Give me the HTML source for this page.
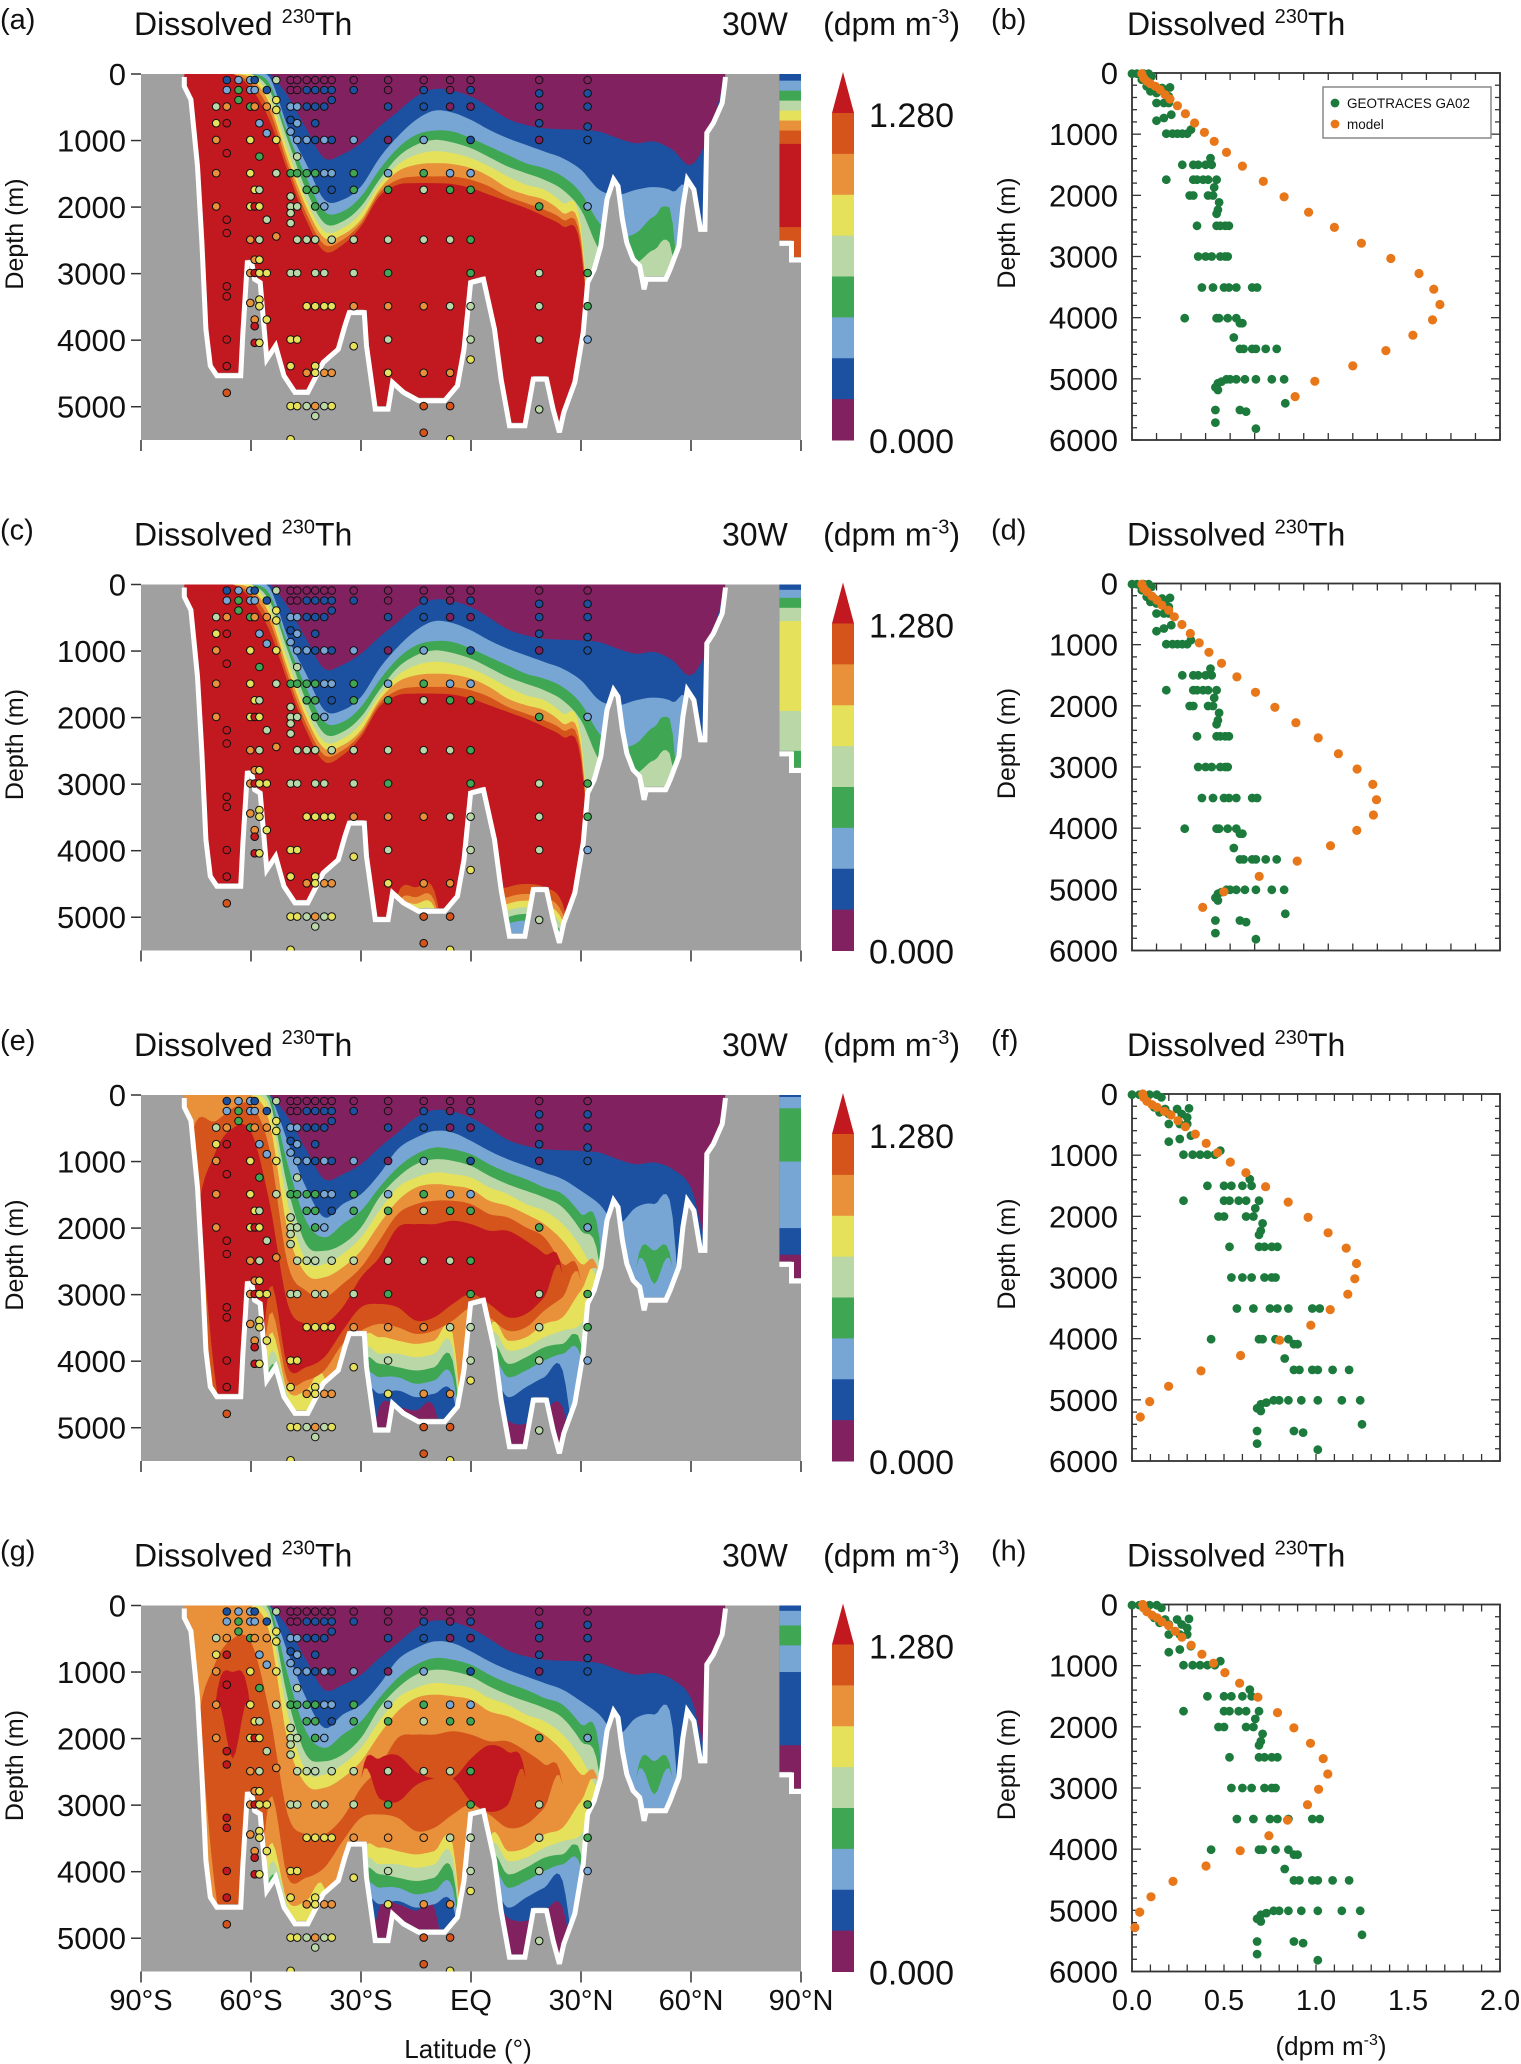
<!DOCTYPE html>
<html><head><meta charset="utf-8">
<style>
html,body{margin:0;padding:0;background:#fff;}
svg{display:block;font-family:"Liberation Sans",Arial,sans-serif;}
</style></head>
<body>
<svg id="fig" xmlns="http://www.w3.org/2000/svg" width="1521" height="2064" viewBox="0 0 1521 2064"></svg>
<script>
// ---------- data ----------
const LATS=[-80,-75,-70,-65,-60,-55,-50,-45,-40,-35,-30,-25,-20,-15,-10,-5,0,5,10,15,20,25,30,35,40,45,50,55,60,65,70];
const BATHY_LAT=[-90,-78.2,-78.2,-76.4,-74.6,-73.4,-72.3,-71.1,-69.3,-62.8,-62.2,-61,-59.8,-59,-57.5,-55.7,-53.3,-51,-48,-44.5,-40.3,-36.2,-34.4,-33.2,-29.1,-28.5,-26.1,-22.6,-21.4,-18.4,-14.3,-7.2,-3.7,-1.9,-0.1,3.4,4.6,6.4,8.2,10.5,14.7,17,20.6,22.4,24.1,25.3,28.3,30.6,31.8,33.6,35.4,37.1,38.9,40.1,41.3,42.5,44.2,46,47.2,47.8,53.1,54.3,56.7,57.8,59,60.8,62.6,63.8,64.3,66.1,68.5,69.1,69.4,84.1,84.1,87.4,87.4,90];
const BATHY_DEP=[0,0,140,340,1340,2490,3790,4340,4490,4490,3840,2790,2790,3040,3090,4240,4040,4490,4740,4740,4290,4090,3740,3540,3540,4040,4990,4990,4590,4740,4865,4865,4640,4090,3090,3040,3340,3790,4540,5240,5240,4540,4540,4990,5340,5040,4590,3840,3090,2890,2540,1840,1540,1640,2140,2490,2740,2840,3190,3040,3040,2890,2540,1940,1540,1690,2290,2290,840,690,390,140,0,0,2500,2500,2750,2750];

// panel (a) contour tops, levels 1..8
const A_TOP=[
[0,0,0,0,0,0,330,815,1265,1205,1040,790,565,340,225,250,340,500,675,765,815,830,840,865,965,1040,1015,1140,1365,900,0],
[0,0,0,0,0,40,790,1340,1890,1890,1690,1265,940,690,550,580,690,840,965,1065,1165,1265,1440,1740,1815,1740,1700,1765,2040,6000,6000],
[0,0,0,0,0,140,890,1540,2065,2065,1840,1440,1115,915,850,865,965,1090,1215,1340,1415,1540,1790,2240,2440,2390,2140,2240,6000,6000,6000],
[0,0,0,0,0,240,990,1740,2240,2215,1990,1590,1250,1065,990,1030,1115,1250,1390,1490,1590,1740,2040,2640,2800,2840,2640,2740,6000,6000,6000],
[0,0,0,0,0,340,1140,1890,2365,2315,2090,1665,1365,1215,1160,1190,1265,1390,1540,1665,1740,1940,2290,6000,6000,6000,6000,6000,6000,6000,6000],
[0,0,0,0,65,440,1265,1990,2465,2415,2190,1740,1465,1365,1340,1355,1415,1540,1715,1815,1890,2090,2440,6000,6000,6000,6000,6000,6000,6000,6000],
[0,0,0,0,140,540,1365,2090,2565,2490,2240,1790,1590,1540,1540,1540,1590,1690,1840,1940,2040,2190,2540,6000,6000,6000,6000,6000,6000,6000,6000],
[0,0,0,0,215,690,1465,2190,2665,2565,2290,1840,1665,1640,1640,1655,1715,1815,1915,2015,2140,2290,2640,6000,6000,6000,6000,6000,6000,6000,6000]];
const A_BOT=[null,null,null,null,null,null,null,null];
const C_BOT=[null,null,
[6000,6000,6000,6000,6000,6000,6000,6000,6000,6000,6000,6000,5200,5100,5150,6000,6000,5250,5100,5050,5100,5350,6000,6000,6000,6000,6000,6000,6000,6000,6000],
[6000,6000,6000,6000,6000,6000,6000,6000,6000,6000,6000,6000,5100,5000,5050,6000,6000,5150,5000,4950,5000,5250,6000,6000,6000,6000,6000,6000,6000,6000,6000],
[6000,6000,6000,6000,6000,6000,6000,6000,6000,6000,6000,6000,5000,4900,4950,6000,6000,5050,4900,4850,4900,5150,6000,6000,6000,6000,6000,6000,6000,6000,6000],
[6000,6000,6000,6000,6000,6000,6000,6000,6000,6000,6000,6000,4900,4800,4850,6000,6000,4950,4800,4750,4800,5050,6000,6000,6000,6000,6000,6000,6000,6000,6000],
[6000,6000,6000,6000,6000,6000,6000,6000,6000,6000,6000,6000,4800,4700,4750,6000,6000,4850,4700,4650,4700,4950,6000,6000,6000,6000,6000,6000,6000,6000,6000],
[6000,6000,6000,6000,6000,6000,6000,6000,6000,6000,6000,6000,4650,4550,4600,6000,6000,4700,4550,4500,4550,4800,6000,6000,6000,6000,6000,6000,6000,6000,6000]];

const E_TOP=[
[0,0,0,0,0,0,330,815,1265,1190,1040,790,565,340,225,250,340,500,675,765,815,830,840,865,965,1040,1015,1115,1390,2200,700],
[0,0,0,0,0,0,700,1390,1840,1640,1490,1190,815,640,540,565,690,840,965,1065,1165,1265,1440,1640,1940,1690,1640,1840,6000,6000,6000],
[0,0,0,0,0,0,1040,1890,2140,1940,1740,1390,1090,890,790,815,890,1040,1165,1265,1390,1490,1790,2140,6000,2600,2340,2600,6000,6000,6000],
[0,0,0,0,0,80,1390,2240,2340,2240,1990,1540,1240,1040,965,990,1065,1215,1340,1440,1540,1690,2040,2540,6000,6000,6000,6000,6000,6000,6000],
[0,0,0,0,0,200,1640,2490,2540,2390,2140,1740,1390,1240,1165,1190,1240,1390,1490,1640,1740,1940,2290,2790,2900,6000,6000,6000,6000,6000,6000],
[0,0,0,0,0,400,2040,2690,2740,2590,2340,1940,1590,1390,1340,1365,1415,1590,1665,1790,1940,2190,2540,2750,6000,6000,6000,6000,6000,6000,6000],
[1500,400,400,200,150,800,2540,2940,3040,2840,2590,2190,1790,1640,1590,1590,1640,1790,1840,1990,2140,2540,2800,6000,6000,6000,6000,6000,6000,6000,6000],
[6000,2000,900,500,550,1600,3140,3440,3440,3190,2740,2440,1990,1940,1940,1890,1940,2040,2040,2190,2390,2700,6000,6000,6000,6000,6000,6000,6000,6000,6000]];
const E_BOT=[
[6000,6000,6000,6000,6000,6000,6000,6000,6000,6000,6000,4690,4690,4740,4690,6000,6000,4540,4890,4940,4740,4690,6000,6000,6000,6000,6000,6000,6000,6000,6000],
[6000,6000,6000,6000,6000,6000,6000,6000,6000,6000,4440,4490,4440,4540,4490,4490,6000,4290,4540,4390,4240,4140,6000,6000,6000,6000,6000,6000,6000,6000,6000],
[6000,6000,6000,6000,6000,6000,6000,6000,6000,6000,4290,4240,4240,4340,4290,4240,6000,4040,4240,4140,3990,3890,3940,6000,6000,2600,2840,2600,6000,6000,6000],
[6000,6000,6000,6000,6000,4100,4650,6000,6000,6000,4090,4040,4090,4140,4090,3990,6000,3840,4040,3940,3790,3740,3740,6000,6000,6000,6000,6000,6000,6000,6000],
[6000,6000,6000,6000,6000,3900,4550,6000,4340,6000,3940,3890,3890,3940,3890,3790,6000,3690,3840,3790,3640,3540,3440,2940,2900,6000,6000,6000,6000,6000,6000],
[6000,6000,4500,6000,6000,3600,4450,4440,4240,6000,3790,3640,3690,3740,3690,3590,6000,3540,3690,3640,3440,3340,2940,2750,6000,6000,6000,6000,6000,6000,6000],
[6000,6000,4400,6000,6000,3300,4300,4290,4140,3740,3540,3440,3490,3590,3540,3390,3200,3340,3540,3490,3240,3040,2800,6000,6000,6000,6000,6000,6000,6000,6000],
[6000,2000,4150,6000,6000,2900,4090,4090,3940,3540,3190,3140,3190,3390,3340,3140,2990,3140,3340,3290,3040,2700,6000,6000,6000,6000,6000,6000,6000,6000,6000]];

const G_TOP=[E_TOP[0],E_TOP[1],E_TOP[2],E_TOP[3],E_TOP[4],E_TOP[5],E_TOP[7],
[6000,6000,1600,1000,1600,6000,6000,6000,6000,6000,2600,2300,2250,2500,2600,2600,2300,2100,2200,2600,6000,6000,6000,6000,6000,6000,6000,6000,6000,6000,6000]];
const G_BOT=[
[6000,6000,6000,6000,6000,6000,6000,6000,6000,6000,6000,4540,4490,4590,4540,6000,6000,4390,4690,4740,4590,4540,6000,6000,6000,6000,6000,6000,6000,6000,6000],
E_BOT[1],E_BOT[2],E_BOT[3],E_BOT[4],E_BOT[5],E_BOT[7],
[6000,6000,1600,2300,1600,6000,6000,6000,6000,6000,2600,2900,2950,2700,2600,2600,2950,3100,3000,2600,6000,6000,6000,6000,6000,6000,6000,6000,6000,6000,6000]];

// Arctic strip (84-90N) band tops / bottoms, levels 1..8
const ARC_A_TOP=[0,100,250,400,550,700,850,1050], ARC_A_BOT=[6000,6000,6000,6000,6000,6000,6000,2300];
const ARC_C_TOP=[0,80,200,350,550,6000,6000,6000], ARC_C_BOT=[6000,6000,6000,2500,1900,6000,6000,6000];
const ARC_E_TOP=[0,30,200,6000,6000,6000,6000,6000], ARC_E_BOT=[2400,2000,1000,6000,6000,6000,6000,6000];
const ARC_G_TOP=[0,80,300,6000,6000,6000,6000,6000], ARC_G_BOT=[2100,1000,600,6000,6000,6000,6000,6000];

// GEOTRACES stations on section: latitude and "depth:level" samples
const STATION_LATS=[-69.5,-66.6,-63.4,-60.2,-59,-57.7,-55.7,-53.1,-49.2,-47.4,-44.8,-42.5,-40,-38,-32,-22.6,-12.9,-5.7,-0.1,18.6,31.8];
const STATION_SAMPLES=[
"490:4 740:5 990:6 1490:6 1990:6",
"90:1 240:2 490:6 740:8 1190:8 2190:8 2390:8 3190:8 3340:8 3990:8 4390:8 4790:7",
"90:2 240:3 390:3",
"90:2 240:2 490:3 990:5 1490:5 1990:5 2490:6 2990:6 3440:6",
"90:1 240:2 490:6 1740:5 1990:8 2790:6 2990:8 3690:6 3790:8 4040:8",
"740:2 1240:3 1740:4 1990:5 2490:4 2790:5 2990:5 3390:5 3490:5 4040:5",
"240:1 490:6 890:2 2190:4 2990:5 3690:5",
"90:4 390:5 540:5 990:5 1490:4 2440:6",
"90:0 240:0 490:2 690:1 865:2 1490:3 1840:4 1990:4 2090:4 2240:4 2990:4 3990:5 4390:5 4990:5 5490:5",
"90:0 240:0 490:2 740:2 990:2 1240:4 1490:3 1990:4 2490:4 2990:4 3990:5 4990:5",
"90:0 240:1 490:1 990:2 1490:3 1740:3 2490:4 3490:5 4490:6 4990:4",
"90:0 240:1 490:1 740:1 990:1 1490:3 1740:3 1990:3 2490:4 2990:4 3490:5 4390:5 4490:5 4990:6 5140:4",
"90:0 240:1 490:1 990:2 1490:2 1990:2 2990:4 3490:5 4490:6 4990:4",
"90:0 240:1 390:1 990:1 1490:2 1740:1 2490:4 3490:5 4490:6 4990:5",
"90:0 240:1 990:2 1490:3 1740:3 2490:4 2990:4 3490:6 4090:5",
"90:0 240:0 490:1 990:0 1490:2 1740:3 2490:4 2990:3 3490:6 3990:4 4490:5",
"90:0 240:1 490:1 990:2 1490:3 1740:4 2490:4 3490:6 4490:6 4990:7 5390:7",
"90:0 240:0 490:0 1490:2 1740:3 2490:4 3490:4 4490:6 4990:7 5490:5",
"90:0 240:1 490:0 990:1 1490:2 1740:3 2490:3 2990:3 3490:4 3990:4 4290:5",
"90:0 290:1 490:1 740:1 990:0 1990:3 2990:4 3490:4 3990:4 5040:4",
"90:0 290:1 490:1 790:1 990:1 1990:2 2990:3 3490:3 3990:2"];

// profile observations (dpm m-3, m)
const OBS_VAL=[0,.04,.095,.135,.16,.08,.12,.18,.245,.31,.15,.2,.27,.3,.2,.26,.3,.2,.26,.32,.28,.33,.37,.41,.45,.48,.41,.5,.54,.6,.64,.65,.28,.5,.53,.58,.62,.69,.67,.47,.5,.62,.66,.71,.7,.69,.53,.69,.72,.76,.79,.54,.6,.65,.72,.76,.78,.57,.66,.75,.79,.85,.98,1.02,.43,.69,.71,.78,.85,.88,.9,.83,.88,.91,.98,1.01,1.09,1.18,.68,.7,.73,.77,.8,.85,.92,1.01,1.14,1.24,.7,1.25,.68,.88,.93,.68,1.01];
const OBS_DEP=[11,11,11,11,55,109,218,245,245,235,300,327,327,382,491,491,491,780,736,682,993,993,993,993,993,927,1500,1500,1500,1500,1391,1500,1745,1745,1745,1745,1745,1745,1871,2002,2002,2002,2002,2116,2236,2302,2498,2498,2498,2498,2498,3000,3000,3000,3000,3000,3000,3507,3507,3507,3507,3507,3507,3507,4009,4009,4009,4009,4009,4091,4091,4325,4511,4511,4511,4511,4511,4511,5138,5073,5045,5007,5007,5007,5007,5007,5007,5007,5182,5400,5509,5509,5536,5716,5815];
// model profiles
const MODEL_B_DEP=[11,82,136,175,218,273,355,425,535,665,818,971,1118,1298,1522,1773,2024,2275,2525,2782,3033,3278,3535,3785,4036,4287,4538,4789,5040,5291];
const MODEL_B_VAL=[.08,.095,.12,.15,.19,.23,.27,.31,.37,.435,.51,.59,.67,.77,.9,1.07,1.24,1.44,1.65,1.87,2.11,2.34,2.46,2.51,2.45,2.29,2.07,1.8,1.49,1.33];
const MODEL_D_DEP=[11,82,136,207,273,355,436,545,671,818,971,1124,1304,1527,1778,2024,2275,2525,2782,3033,3284,3535,3785,4036,4287,4538,4789,5040,5296];
const MODEL_D_VAL=[.081,.095,.122,.163,.204,.244,.299,.345,.407,.475,.548,.627,.73,.855,1.007,1.165,1.336,1.518,1.683,1.835,1.963,1.993,1.968,1.833,1.618,1.347,1.037,.749,.576];
const MODEL_F_DEP=[0,55,120,175,218,284,344,436,535,655,807,960,1113,1287,1516,1767,2018,2269,2520,2771,3022,3273,3524,3780,4025,4276,4527,4778,5029,5280];
const MODEL_F_VAL=[.058,.063,.081,.109,.136,.176,.212,.25,.29,.344,.403,.465,.534,.619,.726,.849,.957,1.066,1.164,1.22,1.211,1.173,1.077,.972,.802,.59,.375,.199,.096,.045];
const MODEL_H_DEP=[0,55,120,175,218,284,344,436,535,665,813,960,1113,1287,1516,1767,2018,2269,2520,2771,3022,3273,3524,3780,4025,4276,4527,4778,5029,5280];
const MODEL_H_VAL=[.058,.063,.081,.109,.136,.163,.199,.235,.271,.322,.38,.443,.505,.585,.684,.791,.88,.97,1.039,1.064,1.014,.954,.845,.744,.588,.402,.223,.103,.042,.016];

const DEPTH_TICKS=[0,1000,2000,3000,4000,5000];
const PROF_TICKS=[0,1000,2000,3000,4000,5000,6000];
const LAT_TICKS=[-90,-60,-30,0,30,60,90];
const LAT_LABELS=["90°S","60°S","30°S","EQ","30°N","60°N","90°N"];
const VAL_LABELS=["0.0","0.5","1.0","1.5","2.0"];
const COLORS=['#82215f','#1b51a0','#77a6d5','#3fa653','#b9d7a7','#e6e15a','#e8903a','#d4541c','#c1191f'];

// ---------- drawing ----------
const NS='http://www.w3.org/2000/svg';
const svg=document.getElementById('fig');
function mk(tag,attrs,parent){const e=document.createElementNS(NS,tag);for(const k in attrs)e.setAttribute(k,attrs[k]);(parent||svg).appendChild(e);return e;}
const ROWH=510.5;

function sampleCurve(arr){
  const out=[];const n=arr.length;
  for(let i=0;i<n-1;i++){
    const p0=arr[Math.max(i-1,0)],p1=arr[i],p2=arr[i+1],p3=arr[Math.min(i+2,n-1)];
    for(let s=0;s<6;s++){const t=s/6;
      let v=0.5*((2*p1)+(-p0+p2)*t+(2*p0-5*p1+4*p2-p3)*t*t+(-p0+3*p1-3*p2+p3)*t*t*t);
      const lo=Math.min(p1,p2),hi=Math.max(p1,p2);v=Math.max(lo-150,Math.min(hi+150,v));
      out.push([LATS[i]+5*t,Math.max(0,Math.min(5800,v))]);}
  }
  out.push([LATS[n-1],Math.max(0,Math.min(5800,arr[n-1]))]);return out;
}

function drawSection(r,tops,bots,arcTop,arcBot,letter){
  const t0=74+r*ROWH;
  const X=lat=>141+(lat+90)*660/180;
  const Y=d=>t0+d*366/5500;
  const g=mk('g',{});
  
  
  const cid='clip'+r;
  const cp=mk('clipPath',{id:cid},g);
  mk('rect',{x:141,y:t0,width:660,height:366},cp);
  const body=mk('g',{'clip-path':'url(#'+cid+')'},g);
  const bg=mk('rect',{x:141,y:t0,width:660,height:366,fill:COLORS[0]},body);
  
  
  for(let i=0;i<8;i++){
    const tc=sampleCurve(tops[i]);
    const bc=sampleCurve(bots[i]||tops[i].map(()=>6000));
    let p='';
    tc.forEach((q,k)=>{p+=(k?'L':'M')+X(q[0]).toFixed(1)+','+Y(q[1]).toFixed(1);});
    for(let k=bc.length-1;k>=0;k--){const d=Math.max(bc[k][1],tc[k][1]);p+='L'+X(bc[k][0]).toFixed(1)+','+Y(d).toFixed(1);}
    const band=mk('path',{d:p+'Z',fill:COLORS[i+1]},body);
    
    
    if(arcTop[i]<arcBot[i]){
      const ar=mk('rect',{x:X(84.1),y:Y(arcTop[i]),width:X(90)-X(84.1),height:Math.max(0,Y(Math.min(arcBot[i],5800))-Y(arcTop[i])),fill:COLORS[i+1]},body);
      
      
    }
  }
  // bathymetry
  let gp='M'+X(-90)+','+(t0-2);
  for(let k=0;k<BATHY_LAT.length;k++){const yy=BATHY_DEP[k]===0?t0-2:Y(BATHY_DEP[k]);gp+='L'+X(BATHY_LAT[k]).toFixed(1)+','+yy.toFixed(1);}
  gp+='L'+(X(90)+2)+','+Y(2750)+'L'+(X(90)+2)+','+(t0+368)+'L'+X(-90)+','+(t0+368)+'Z';
  const gray=mk('path',{d:gp,fill:'#a0a0a0'},body);
  
  
  let wp='';
  for(let k=1;k<=72;k++){wp+=(k>1?'L':'M')+X(BATHY_LAT[k]).toFixed(1)+','+Y(BATHY_DEP[k]).toFixed(1);}
  for(let k=74;k<BATHY_LAT.length;k++){wp+=(k>74?'L':'M')+X(BATHY_LAT[k]).toFixed(1)+','+Y(BATHY_DEP[k]).toFixed(1);}
  const wl=mk('path',{d:wp,fill:'none',stroke:'#fff','stroke-width':5,transform:'translate(0,3)'},body);
  
  
  // stations
  STATION_LATS.forEach((lat,si)=>{
    STATION_SAMPLES[si].split(' ').forEach(s=>{
      const [d,l]=s.split(':').map(Number);
      const c=mk('circle',{cx:X(lat).toFixed(1),cy:Y(d).toFixed(1),r:3.8,fill:COLORS[l],stroke:'#111','stroke-width':1},body);
      
      
    });
  });
  // axes
  DEPTH_TICKS.forEach(d=>{
    const tk=mk('line',{x1:131,x2:141,y1:Y(d),y2:Y(d),stroke:'#333','stroke-width':1.5},g);
    
    
    const tl=mk('text',{x:126,y:Y(d)+11,'text-anchor':'end','font-size':31,fill:'#111'},g);
    tl.textContent=String(d);
    
    
  });
  LAT_TICKS.forEach(l=>{
    const tk=mk('line',{x1:X(l),x2:X(l),y1:t0+366,y2:t0+377,stroke:'#333','stroke-width':1.5},g);
    
    
  });
  const yt=mk('text',{x:0,y:0,'text-anchor':'middle','font-size':25,fill:'#111',transform:'translate(23,'+(t0+160)+') rotate(-90)'},g);
  yt.textContent='Depth (m)';
  
  
  // colorbar
  const cb=mk('g',{},g);
  
  
  const tri=mk('polygon',{points:'843,'+(t0-2)+' 832,'+(t0+39)+' 854,'+(t0+39),fill:COLORS[8]},cb);
  
  
  const segH=327/8;
  for(let i=0;i<8;i++){
    const sr=mk('rect',{x:832,y:t0+39+i*segH,width:22,height:segH+0.5,fill:COLORS[7-i]},cb);
    
    
  }
  const l1=mk('text',{x:869,y:t0+53,'font-size':34,fill:'#111'},cb);l1.textContent='1.280';
  
  
  const l0=mk('text',{x:869,y:t0+379,'font-size':34,fill:'#111'},cb);l0.textContent='0.000';
  
  
}

function drawProfile(r,xmax,mv,md,letter,legend){
  const t0=73+r*ROWH;
  const PX=v=>1132+v/xmax*368;
  const PY=d=>t0+d/6000*367;
  const g=mk('g',{});
  
  
  for(let d=0;d<=6000;d+=200){
    const len=(d%1000===0)?9:5;
    const a=mk('line',{x1:1132,x2:1132+len,y1:PY(d),y2:PY(d),stroke:'#333','stroke-width':1.3},g);
    
    
    const b=mk('line',{x1:1500-len,x2:1500,y1:PY(d),y2:PY(d),stroke:'#333','stroke-width':1.3},g);
    
    
  }
  const step=xmax===3?0.2:0.1;
  for(let k=0;k*step<=xmax+1e-6;k++){
    const x=PX(k*step);
    const a=mk('line',{x1:x,x2:x,y1:t0,y2:t0+7,stroke:'#333','stroke-width':1.3},g);
    
    
    const b=mk('line',{x1:x,x2:x,y1:t0+367-7,y2:t0+367,stroke:'#333','stroke-width':1.3},g);
    
    
  }
  const fr=mk('rect',{x:1132,y:t0,width:368,height:367,fill:'none',stroke:'#333','stroke-width':1.8},g);
  
  
  PROF_TICKS.forEach(d=>{
    const tl=mk('text',{x:1118,y:PY(d)+11,'text-anchor':'end','font-size':31,fill:'#111'},g);
    tl.textContent=String(d);
    
    
  });
  const yt=mk('text',{x:0,y:0,'text-anchor':'middle','font-size':25,fill:'#111',transform:'translate(1015,'+(t0+160)+') rotate(-90)'},g);
  yt.textContent='Depth (m)';
  
  
  OBS_VAL.forEach((v,i)=>{
    const c=mk('circle',{cx:PX(v).toFixed(1),cy:PY(OBS_DEP[i]).toFixed(1),r:4.4,fill:'#1b7a3c'},g);
    
    
  });
  mv.forEach((v,i)=>{
    const c=mk('circle',{cx:PX(v).toFixed(1),cy:PY(md[i]).toFixed(1),r:4.6,fill:'#e8771a'},g);
    
    
  });
  if(legend){
    const lg=mk('g',{},g);
    
    
    const bx=mk('rect',{x:1323,y:t0+14,width:168,height:51,fill:'#fff',stroke:'#888','stroke-width':1.5},lg);
    
    
    const m1=mk('circle',{cx:1335,cy:t0+30,r:4.4,fill:'#1b7a3c'},lg);
    
    
    const t1=mk('text',{x:1347,y:t0+35,'font-size':13.5,fill:'#111'},lg);t1.textContent='GEOTRACES GA02';
    
    
    const m2=mk('circle',{cx:1335,cy:t0+51,r:4.4,fill:'#e8771a'},lg);
    
    
    const t2=mk('text',{x:1347,y:t0+56,'font-size':13.5,fill:'#111'},lg);t2.textContent='model';
    
    
  }
}

function drawTitles(r,l1,l2){
  const y0=r*ROWH;
  const a=mk('text',{x:0,y:y0+29,'font-size':29,fill:'#111'});a.textContent='('+l1+')';
  
  
  const t=mk('text',{x:134,y:y0+35,'font-size':32,fill:'#111'});
  t.innerHTML='Dissolved <tspan font-size="20" dy="-12">230</tspan><tspan dy="12">Th</tspan>';
  
  
  const w=mk('text',{x:722,y:y0+35,'font-size':32,fill:'#111'});
  w.textContent='30W';
  
  
  const u=mk('text',{x:960,y:y0+35,'font-size':32,fill:'#111','text-anchor':'end'});
  u.innerHTML='(dpm m<tspan font-size="20" dy="-12">-3</tspan><tspan dy="12">)</tspan>';
  
  
  const b=mk('text',{x:991,y:y0+29,'font-size':29,fill:'#111'});b.textContent='('+l2+')';
  
  
  const t2=mk('text',{x:1127,y:y0+35,'font-size':32,fill:'#111'});
  t2.innerHTML='Dissolved <tspan font-size="20" dy="-12">230</tspan><tspan dy="12">Th</tspan>';
  
  
}

drawTitles(0,'a','b');drawTitles(1,'c','d');drawTitles(2,'e','f');drawTitles(3,'g','h');
drawSection(0,A_TOP,A_BOT,ARC_A_TOP,ARC_A_BOT,'a');
drawSection(1,A_TOP,C_BOT,ARC_C_TOP,ARC_C_BOT,'c');
drawSection(2,E_TOP,E_BOT,ARC_E_TOP,ARC_E_BOT,'e');
drawSection(3,G_TOP,G_BOT,ARC_G_TOP,ARC_G_BOT,'g');
drawProfile(0,3,MODEL_B_VAL,MODEL_B_DEP,'b',true);
drawProfile(1,3,MODEL_D_VAL,MODEL_D_DEP,'d',false);
drawProfile(2,2,MODEL_F_VAL,MODEL_F_DEP,'f',false);
drawProfile(3,2,MODEL_H_VAL,MODEL_H_DEP,'h',false);

// bottom axis labels
LAT_TICKS.forEach((l,i)=>{
  const x=141+(l+90)*660/180;
  const t=mk('text',{x:x,y:2010,'text-anchor':'middle','font-size':29,fill:'#111'});
  t.textContent=LAT_LABELS[i];
  
  
});
VAL_LABELS.forEach((s,i)=>{
  const x=1132+i*0.5/2*368;
  const t=mk('text',{x:x,y:2010,'text-anchor':'middle','font-size':29,fill:'#111'});
  t.textContent=s;
  
  
});
const xt=mk('text',{x:468,y:2058,'text-anchor':'middle','font-size':26,fill:'#111'});
xt.textContent='Latitude (°)';


const xt2=mk('text',{x:1331,y:2055,'text-anchor':'middle','font-size':26,fill:'#111'});
xt2.innerHTML='(dpm m<tspan font-size="16" dy="-10">-3</tspan><tspan dy="10">)</tspan>';


</script>
</body></html>
